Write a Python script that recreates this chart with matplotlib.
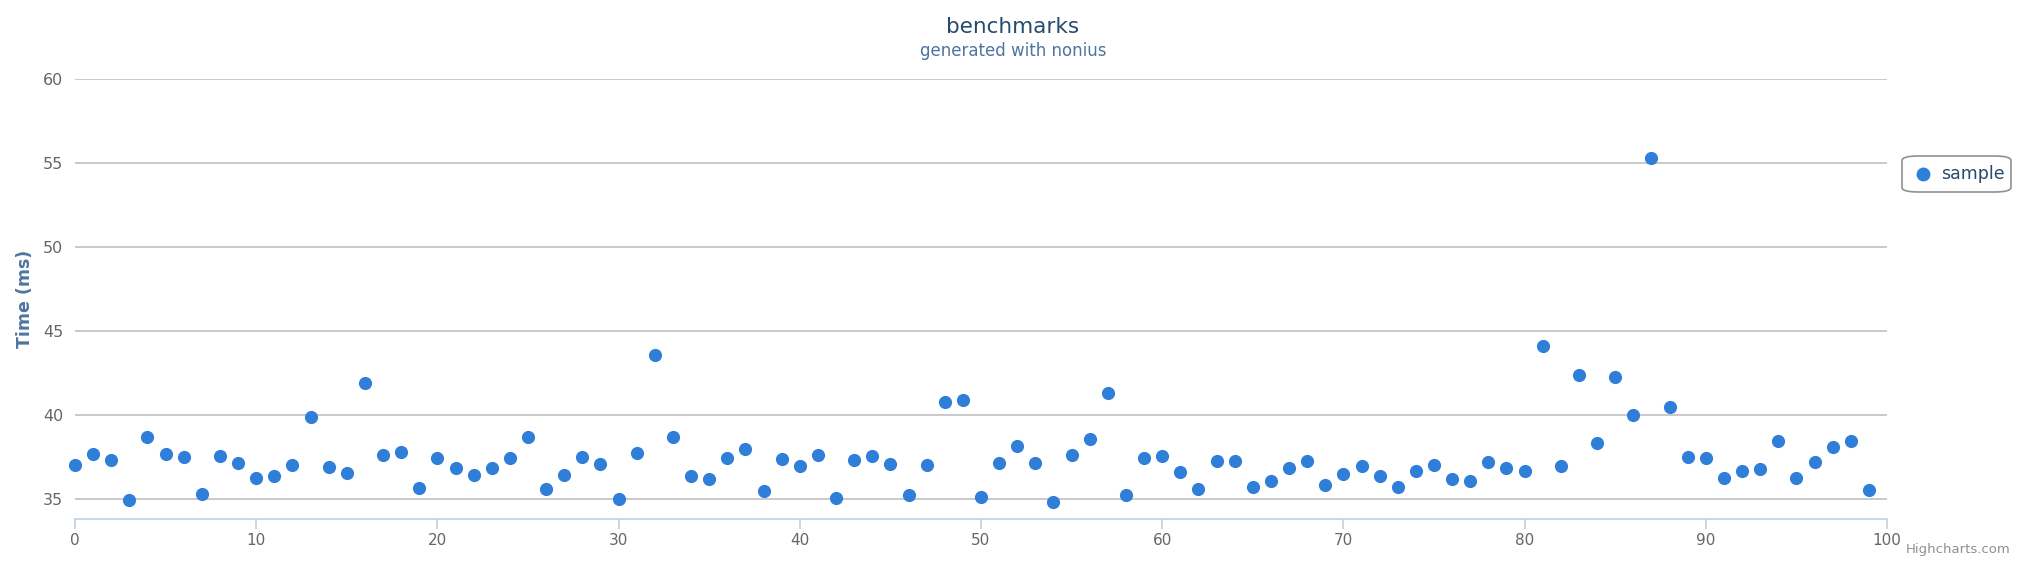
import matplotlib
matplotlib.use("Agg")
import matplotlib.pyplot as plt
from matplotlib.patches import FancyBboxPatch
from matplotlib.lines import Line2D

plt.rcParams['font.family'] = ['DejaVu Sans']

x_index = list(range(100))
times_ms = [
    37.00, 37.66, 37.32, 34.90, 38.67, 37.64, 37.48, 35.28, 37.52, 37.10,
    36.23, 36.33, 37.00, 39.88, 36.87, 36.51, 41.88, 37.58, 37.76, 35.65,
    37.42, 36.83, 36.43, 36.80, 37.44, 38.67, 35.58, 36.39, 37.50, 37.04,
    34.98, 37.72, 43.57, 38.65, 36.35, 36.17, 37.44, 37.98, 35.46, 37.34,
    36.92, 37.60, 35.02, 37.28, 37.56, 37.08, 35.21, 37.02, 40.75, 40.85,
    35.08, 37.14, 38.12, 37.14, 34.82, 37.58, 38.55, 41.29, 35.22, 37.42,
    37.52, 36.61, 35.60, 37.26, 37.24, 35.71, 36.05, 36.83, 37.22, 35.83,
    36.45, 36.92, 36.32, 35.71, 36.63, 37.00, 36.19, 36.07, 37.20, 36.81,
    36.67, 44.09, 36.96, 42.36, 38.33, 42.26, 40.00, 55.30, 40.46, 37.46,
    37.40, 36.21, 36.63, 36.75, 38.43, 36.25, 37.20, 38.06, 38.41, 35.50,
]
y_ticks = [35, 40, 45, 50, 55, 60]
x_ticks = [0, 10, 20, 30, 40, 50, 60, 70, 80, 90, 100]

W, H = 2026, 572
fig = plt.figure(figsize=(W / 100, H / 100), dpi=100)

left, right, top, bottom = 75, 1887, 78.7, 519.3
ax = fig.add_axes([left / W, 1 - bottom / H, (right - left) / W, (bottom - top) / H])

ax.scatter(x_index, times_ms, s=90, color='#2f7ed8', linewidths=0, zorder=3, clip_on=False)

ax.set_xlim(0, 100)
ax.set_ylim(33.77, 60)
ax.set_yticks(y_ticks)
ax.set_xticks(x_ticks)
ax.yaxis.grid(True, color='#C0C0C0', linewidth=1.2)
ax.set_axisbelow(True)
for s in ['top', 'right', 'left']:
    ax.spines[s].set_visible(False)
ax.spines['bottom'].set_color('#C0D0E0')
ax.spines['bottom'].set_linewidth(1.2)
ax.tick_params(axis='x', colors='#C0D0E0', length=7, width=1.2, labelcolor='#666666',
               labelsize=11, pad=3)
ax.tick_params(axis='y', length=0, labelcolor='#666666', labelsize=11.5, pad=8.5)

ax.set_ylabel('Time (ms)', color='#4d759e', fontsize=12.5, fontweight='bold')
ax.yaxis.set_label_coords((34 - left) / (right - left), 0.5)

fig.text(0.5, 1 - 27 / H, 'benchmarks', ha='center', va='center',
         fontsize=15.5, color='#274b6d')
fig.text(0.5, 1 - 51 / H, 'generated with nonius', ha='center', va='center',
         fontsize=12, color='#4d759e')

fig.text(2010 / W, 1 - 550 / H, 'Highcharts.com', ha='right', va='center',
         fontsize=9.5, color='#909090')

# legend
bx0, by0, bx1, by1 = 1902, 156, 2011, 192
box = FancyBboxPatch((bx0 / W, 1 - by1 / H), (bx1 - bx0) / W, (by1 - by0) / H,
                     boxstyle='round,pad=0,rounding_size=0.008', transform=fig.transFigure,
                     facecolor='white', edgecolor='#909090', linewidth=1.2)
fig.patches.append(box)
fig.add_artist(Line2D([1923 / W], [1 - 174 / H], marker='o', markersize=10,
                      color='#2f7ed8', markeredgewidth=0, transform=fig.transFigure))
fig.text(1941 / W, 1 - 174 / H, 'sample', ha='left', va='center', fontsize=12.5, color='#274b6d')

fig.savefig('out.png', dpi=100, facecolor='white')
